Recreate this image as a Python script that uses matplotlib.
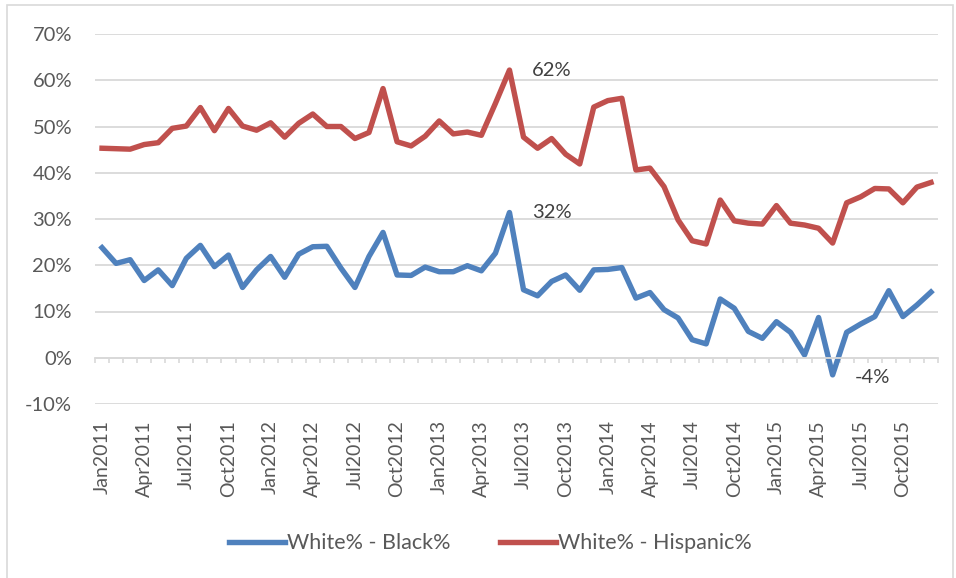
import numpy as np
import matplotlib.pyplot as plt
from matplotlib.patches import Rectangle

plt.rcParams['font.family'] = ['Lato', 'DejaVu Sans']

months = ['Jan', 'Feb', 'Mar', 'Apr', 'May', 'Jun',
          'Jul', 'Aug', 'Sep', 'Oct', 'Nov', 'Dec']
years = [2011, 2012, 2013, 2014, 2015]
labels = [f'{m}{y}' for y in years for m in months]

# White% - Black%  (percentage points)
black_gap = [23.8, 20.4, 21.2, 16.7, 19.0, 15.6, 21.5, 24.3, 19.7, 22.2, 15.2, 19.0,
             21.9, 17.4, 22.4, 24.0, 24.1, 19.4, 15.2, 21.9, 27.1, 17.9, 17.8, 19.6,
             18.6, 18.6, 19.9, 18.8, 22.6, 31.4, 14.7, 13.4, 16.5, 17.9, 14.6, 19.0,
             19.1, 19.5, 12.9, 14.1, 10.4, 8.6, 3.9, 3.0, 12.7, 10.7, 5.7, 4.2,
             7.8, 5.5, 0.6, 8.7, -3.7, 5.5, 7.3, 8.9, 14.5, 8.9, 11.4, 14.2]

# White% - Hispanic%
hisp_gap = [45.3, 45.2, 45.1, 46.1, 46.5, 49.6, 50.1, 54.1, 49.1, 53.9, 50.1, 49.2,
            50.8, 47.7, 50.7, 52.7, 50.0, 50.0, 47.4, 48.7, 58.2, 46.7, 45.8, 47.9,
            51.2, 48.4, 48.8, 48.1, 55.0, 62.2, 47.7, 45.3, 47.4, 44.0, 41.9, 54.2,
            55.6, 56.1, 40.6, 41.0, 37.0, 29.8, 25.3, 24.6, 34.1, 29.6, 29.1, 28.9,
            32.9, 29.1, 28.7, 28.0, 24.8, 33.5, 34.8, 36.6, 36.5, 33.5, 36.9, 37.9]

callouts = [('hisp', 29, '62%'), ('black', 29, '32%'), ('black', 52, '-4%')]

blue = '#4f81bd'
red = '#c0504d'
grid = '#d9d9d9'
txt = '#595959'

fig = plt.figure(figsize=(9.56, 5.78), dpi=100)
fig.patches.append(Rectangle((7 / 956, -0.05), 946 / 956, 1.05 - 5 / 578,
                             transform=fig.transFigure, fill=False,
                             edgecolor=grid, linewidth=1.2))

ax = fig.add_axes([95 / 956, 1 - 404 / 578, (938 - 95) / 956, (404 - 34) / 578])
x = np.arange(len(labels))
ax.plot(x, black_gap, color=blue, lw=3.9, label='White% - Black%', solid_joinstyle='round')
ax.plot(x, hisp_gap, color=red, lw=3.9, label='White% - Hispanic%', solid_joinstyle='round')

ax.set_xlim(-0.5, len(labels) - 0.5)
ax.set_ylim(-10, 70)
yt = np.arange(-10, 71, 10)
ax.set_yticks(yt)
ax.set_yticklabels([f'{v}%' for v in yt])
ax.yaxis.grid(True, color=grid, lw=1.3)
ax.set_axisbelow(True)
for s in ['left', 'right', 'top']:
    ax.spines[s].set_visible(False)
ax.spines['bottom'].set_position(('data', 0))
ax.spines['bottom'].set_color(grid)
ax.spines['bottom'].set_linewidth(1.3)

ax.set_xticks(x[::3])
ax.set_xticklabels(labels[::3], rotation=90, va='top', ha='center')
ax.set_xticks(np.arange(-0.5, len(labels)), minor=True)
ax.tick_params(axis='x', which='major', length=0, pad=45, labelsize=14, labelcolor=txt)
ax.tick_params(axis='x', which='minor', length=3.5, width=1.2, color=grid, direction='out')
ax.tick_params(axis='y', length=0, pad=16.5, labelsize=14.5, labelcolor=txt)

series = {'hisp': hisp_gap, 'black': black_gap}
for key, i, s in callouts:
    v = series[key][i]
    dy = -2 if v < 0 else 0
    ax.annotate(s, xy=(i, v), xytext=(16, dy), textcoords='offset points',
                ha='left', va='center', fontsize=14.5, color='#404040')

ax.legend(loc='center', bbox_to_anchor=(0.513, 0.06), bbox_transform=fig.transFigure,
          ncol=2, frameon=False, fontsize=15.5, handlelength=2.6, handletextpad=0.1,
          columnspacing=2.3, labelcolor=txt)

fig.savefig('out.png', dpi=100)
